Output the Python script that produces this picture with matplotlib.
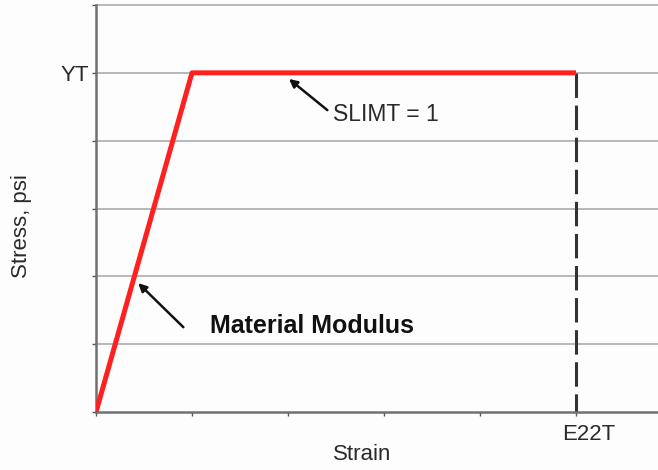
import matplotlib
matplotlib.use("Agg")
import matplotlib.pyplot as plt
import matplotlib.transforms as mtransforms
import numpy as np

# curve values (strain units = x tick spacing, stress units = grid spacing)
strain = [0, 1, 5]
stress = [0, 5, 5]
e22t = 5
yt = 5
x_ticks = [0, 1, 2, 3, 4, 5]
x_labels = ['', '', '', '', '', 'E22T']
y_ticks = [0, 1, 2, 3, 4, 5, 6]
y_labels = ['', '', '', '', '', 'YT', '']

plt.rcParams['font.family'] = ['Liberation Sans', 'DejaVu Sans']

fig = plt.figure(figsize=(6.58, 4.70), dpi=100)
fig.patch.set_facecolor('#fdfdfd')
ax = fig.add_axes([96/658, 58/470, 562/658, 407/470])
ax.set_facecolor('#fdfdfd')

ax.set_xlim(0, 562/96)
ax.set_ylim(0, 6)

for y in y_ticks[1:]:
    ax.axhline(y, color='#b8b8b8', lw=1.4, zorder=1, clip_on=False)

ax.plot(strain, stress, color='#ff2020', lw=3.6, solid_capstyle='butt', zorder=3)
ax.plot([e22t, e22t], [yt, 0], color='#333333', lw=2.2, dashes=(8, 2.5), zorder=2)

for s in ['top', 'right']:
    ax.spines[s].set_visible(False)
for s in ['left', 'bottom']:
    ax.spines[s].set_color('#707070')
    ax.spines[s].set_linewidth(1.8)

ax.set_xticks(x_ticks)
ax.set_xticklabels(x_labels)
ax.set_yticks(y_ticks)
ax.set_yticklabels(y_labels)
ax.tick_params(axis='both', length=3, width=1, color='#555555', labelsize=16, labelcolor='#2a2a2a')
ax.tick_params(axis='x', pad=6)
ax.tick_params(axis='y', pad=2)

# E22T label sits a little right of its tick
shift = mtransforms.ScaledTranslation(13/100, 0, fig.dpi_scale_trans)
for lbl in ax.get_xticklabels():
    lbl.set_transform(lbl.get_transform() + shift)

fig.text(362/658, 10/470, 'Strain', fontsize=16, color='#2a2a2a', ha='center', va='baseline')
fig.text(22/658, 1 - 226/470, 'Stress, psi', fontsize=16, color='#2a2a2a', rotation=90,
         ha='center', va='center')

arrow = dict(arrowstyle='-|>', color='#111111', lw=1.8, shrinkA=0, shrinkB=0, mutation_scale=12)
ax.annotate('', xy=(2.01, 4.91), xytext=(2.41, 4.45), arrowprops=arrow)
ax.text(2.47, 4.38, 'SLIMT = 1', fontsize=16.5, color='#2a2a2a', va='center', ha='left')
ax.annotate('', xy=(0.44, 1.90), xytext=(0.91, 1.25), arrowprops=arrow)
ax.text(1.19, 1.27, 'Material Modulus', fontsize=18, fontweight='bold', color='#111111',
        va='center', ha='left')

fig.savefig('out.png', dpi=100, facecolor=fig.get_facecolor())
